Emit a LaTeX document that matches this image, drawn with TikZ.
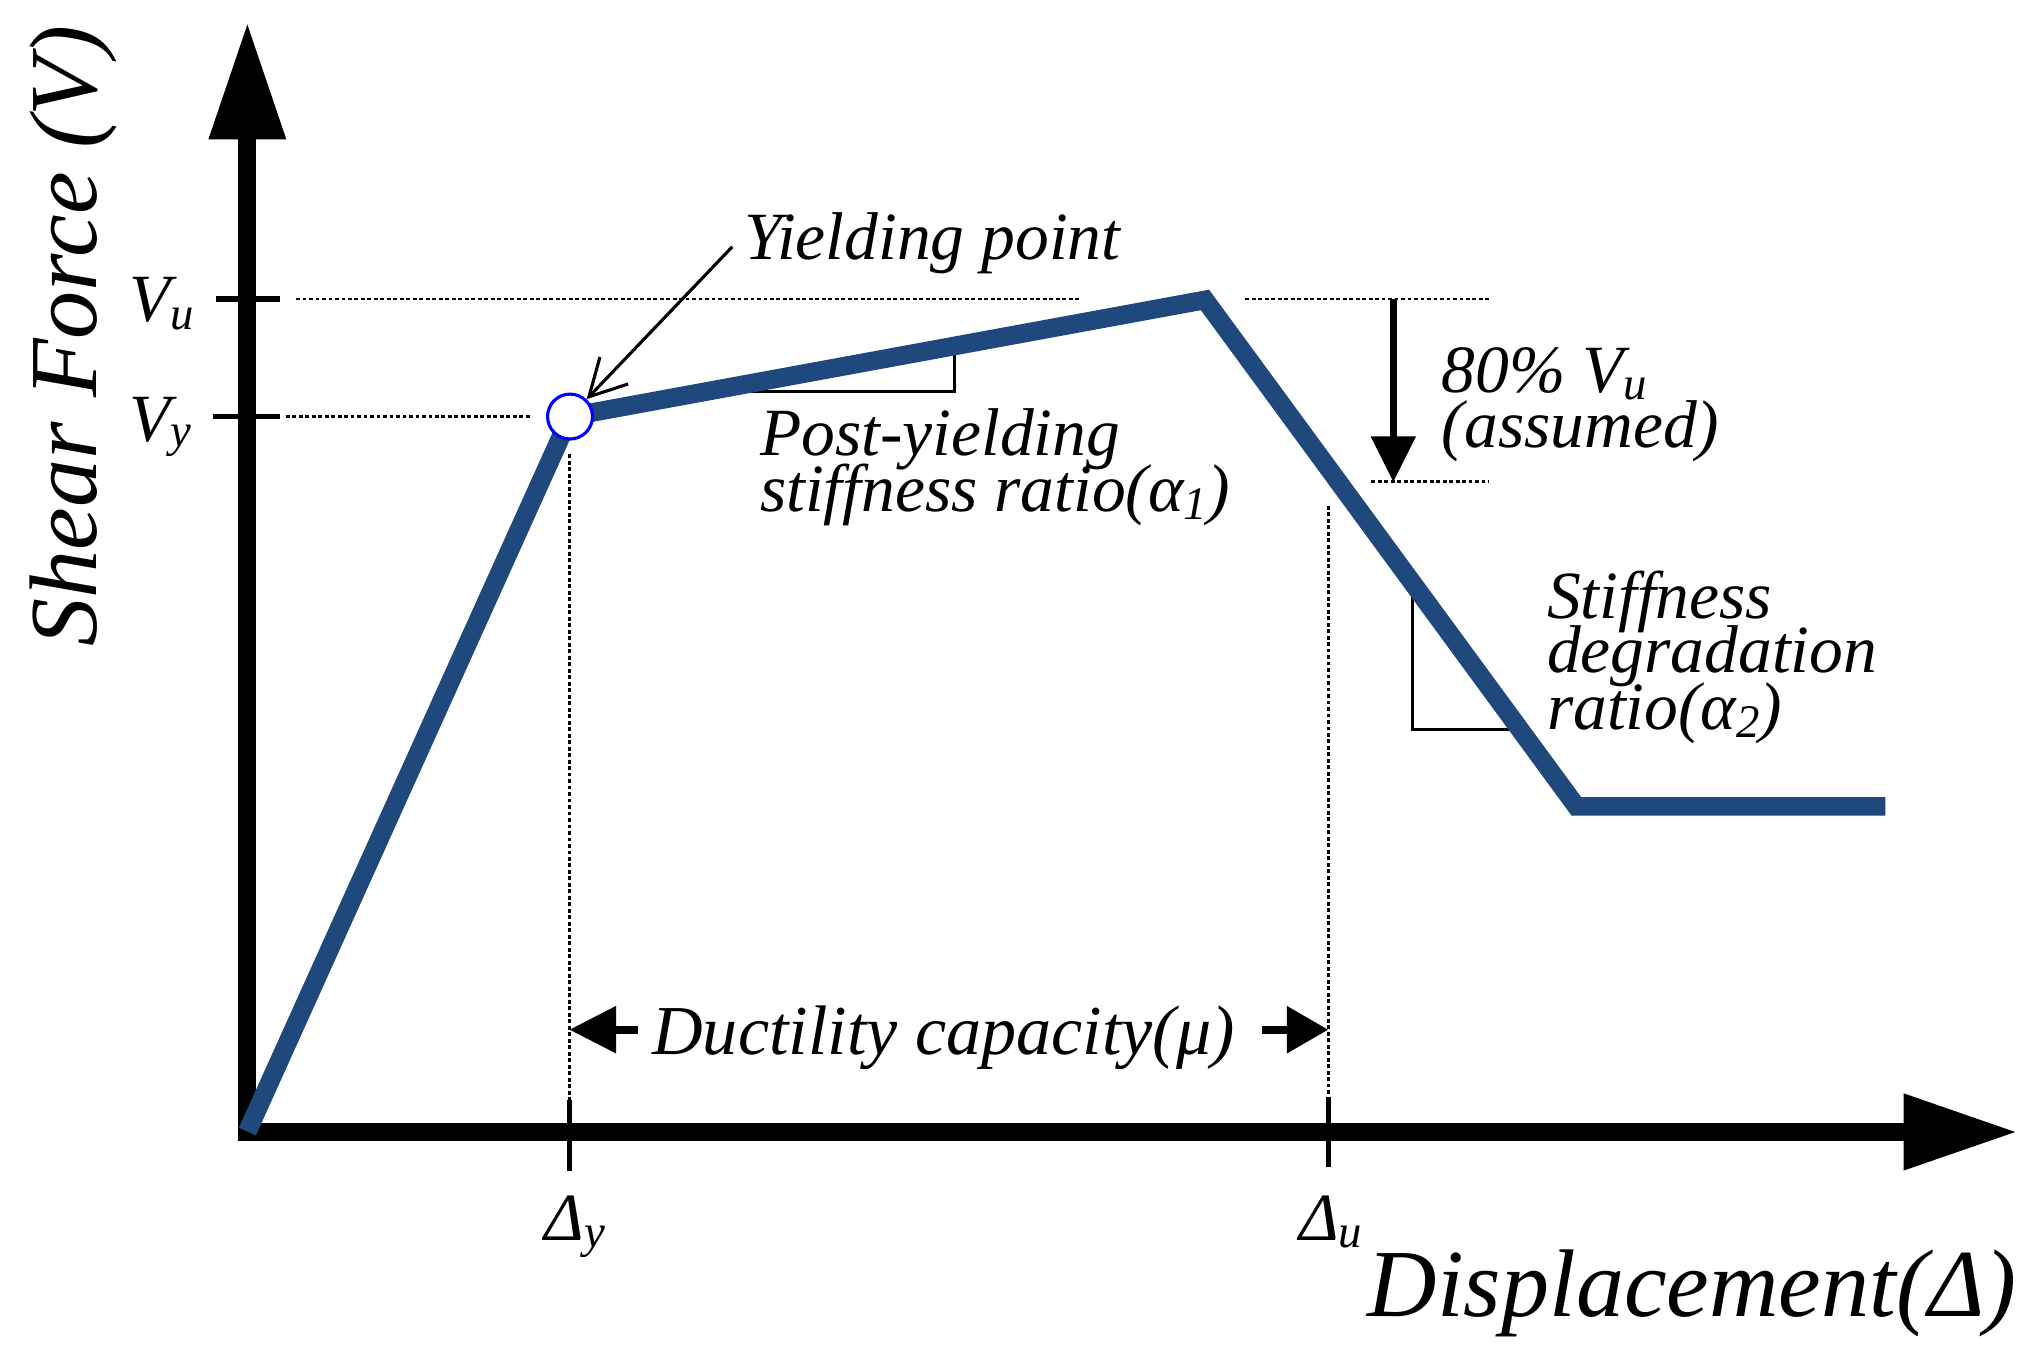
\documentclass[tikz,border=0pt]{standalone}
\usepackage{fontspec}
\setmainfont{Liberation Serif}
\usetikzlibrary{arrows.meta}
\definecolor{curveblue}{RGB}{31,73,125}
\newcommand\lowsub[2][3pt]{\raisebox{-#1}{\fontsize{18}{18}\selectfont #2}}
\tikzset{
  lbl/.style={inner sep=0pt, anchor=base west, font=\fontsize{26}{26}\selectfont\itshape},
  tightlbl/.style={lbl, text height=0.68em, text depth=0.1em},
  biglbl/.style={inner sep=0pt, anchor=base west, font=\fontsize{37}{37}\selectfont\itshape},
  dotline/.style={line width=1pt, dash pattern=on 1.5pt off 1pt},
  axisline/.style={line width=6.9pt, line join=miter},
  tickline/.style={line width=2.2pt},
  slopeline/.style={line width=1.2pt},
  curve/.style={line width=7.2pt, draw=curveblue, line join=miter},
}
\begin{document}
\begin{tikzpicture}[x=0.5pt,y=-0.5pt]
\useasboundingbox (0,0) rectangle (1568,1044);
% key points
\coordinate (O) at (190.5,871.5);
\coordinate (Y) at (439,320.8);
\coordinate (P) at (928,231);
\coordinate (D) at (1214,621);
\coordinate (E) at (1452,621);
% axes
\draw[axisline] (190.5,107) -- (190.5,871.8) -- (1467,871.8);
\fill (160.5,107.3) -- (220.5,107.3) -- (190.5,18.9) -- cycle;
\fill (1466,842) -- (1466,901.5) -- (1552,871.8) -- cycle;
% ticks
\draw[tickline] (166,230.3) -- (216,230.3);
\draw[tickline] (164,320.8) -- (216,320.8);
\draw[line width=2pt] (438.5,847) -- (438.5,901.5);
\draw[line width=2pt] (1023,845) -- (1023,899);
% guide lines
\draw[dotline] (228,230.3) -- (831,230.3);
\draw[dotline] (959,230.3) -- (1149,230.3);
\draw[dotline] (1056,371) -- (1147,371);
\draw[dotline] (220,320.8) -- (409,320.8);
\draw[dotline] (438.5,350) -- (438.5,847);
\draw[dotline] (1023,389.5) -- (1023,845);
% slope triangles
\draw[slopeline] (540,301.6) -- (735,301.6) -- (735,266);
\draw[slopeline] (1088,450) -- (1088,561.5) -- (1175,561.5);
% curve
\draw[curve] (O) -- (Y) -- (P) -- (D) -- (E);
\node[circle, draw=blue, fill=white, line width=1.2pt, minimum size=17.3pt, inner sep=0pt] (yp) at (Y) {};
% 80% arrow
\coordinate (a80s) at (1073,230.3);
\coordinate (a80b) at (1073,337);
\draw[line width=2.5pt] (a80s) -- (a80b);
\fill (1055.5,336) -- (1090.5,336) -- (1073,371) -- cycle;
% yielding point arrow
\coordinate (ys) at (564,190);
\draw[line width=1.2pt, -{Straight Barb[length=14pt,width=15pt]}] (ys) -- (yp);
% ductility arrows
\coordinate (dl0) at (491,793);
\coordinate (dl1) at (438.5,793);
\coordinate (dr0) at (972,793);
\coordinate (dr1) at (1023,793);
\draw[line width=3pt, -{Triangle[length=18pt,width=17.5pt]}] (dl0) -- (dl1);
\draw[line width=3pt, -{Triangle[length=16pt,width=17.5pt]}] (dr0) -- (dr1);
% labels
\node[lbl] (yl) at (573,200) {Yielding point};
\node[tightlbl] (p1) at (585,351) {Post-yielding};
\node[tightlbl] (p2) at (585,394) {stiffness ratio(α\lowsub{1})};
\node[tightlbl] (e1) at (1110,302) {80\% V\lowsub{u}};
\node[tightlbl] (e2) at (1110,345) {(assumed)};
\node[tightlbl] (s1) at (1191,476) {Stiffness};
\node[tightlbl] (s2) at (1191,518) {degradation};
\node[tightlbl] (s3) at (1191,562) {ratio(α\lowsub{2})};
\node[lbl, font=\fontsize{27}{27}\selectfont\itshape] (dc) at (502,812) {Ductility capacity(μ)};
\node[biglbl] (dx) at (1053,1014) {Displacement(Δ)};
\node[lbl] (dy) at (419,955) {Δ\lowsub{y}};
\node[lbl] (du) at (1000,955) {Δ\lowsub{u}};
\node[lbl] (vu) at (99,247.5) {V\lowsub{u}};
\node[lbl] (vy) at (99,340) {V\lowsub[2pt]{y}};
\node[biglbl, rotate=90] (sf) at (74,498) {Shear Force (V)};
\end{tikzpicture}
\end{document}
